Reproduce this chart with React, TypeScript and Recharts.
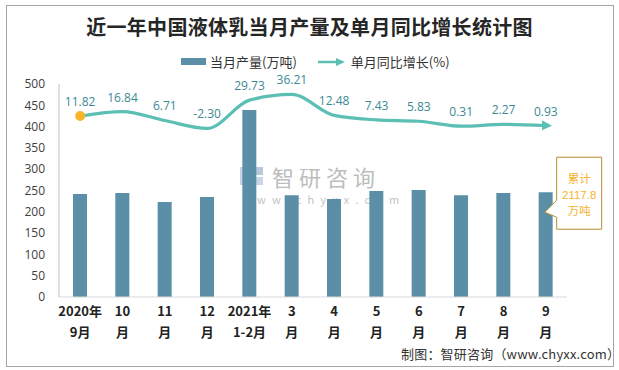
import React from 'react';
import { ComposedChart, Bar, Line, XAxis, YAxis, LabelList } from 'recharts';

const months = ['2020年9月', '10月', '11月', '12月', '2021年1-2月', '3月', '4月', '5月', '6月', '7月', '8月', '9月'];
const tickTop = ['2020年', '10', '11', '12', '2021年', '3', '4', '5', '6', '7', '8', '9'];
const tickBottom = ['9月', '月', '月', '月', '1-2月', '月', '月', '月', '月', '月', '月', '月'];
const output = [242, 244, 223, 235, 439, 239, 230, 249, 251, 239, 244, 246];
const growth = [11.82, 16.84, 6.71, -2.3, 29.73, 36.21, 12.48, 7.43, 5.83, 0.31, 2.27, 0.93];
const yTicks = [0, 50, 100, 150, 200, 250, 300, 350, 400, 450, 500];
const boundaryTicks = [0, 1, 2, 3, 4, 5, 6, 7, 8, 9, 10, 11, 12];
const totalNote = ['累计', '2117.8', '万吨'];

const BAR = '#5b8fa7';
const LINE = '#5cbfb4';
const CJK = '"Noto Sans CJK SC", "Noto Sans", sans-serif';

const data = months.map((m, i) => ({ month: m, output: output[i], growth: growth[i] }));

const MonthTick = (props: any) => {
  const { x, y, payload } = props;
  const i = months.indexOf(payload.value);
  return (
    <g transform={`translate(${x},${y})`}>
      <text x={0} y={11} textAnchor="middle" fontSize={13} fontWeight={700} fill="#222" fontFamily={CJK}>
        {tickTop[i]}
      </text>
      <text x={0} y={32} textAnchor="middle" fontSize={13} fontWeight={700} fill="#222" fontFamily={CJK}>
        {tickBottom[i]}
      </text>
    </g>
  );
};

const FirstDot = (props: any) => {
  const { cx, cy, index } = props;
  if (index !== 0) return <g key={index} />;
  return <circle key={index} cx={cx} cy={cy} r={5} fill="#f7b52c" stroke="none" />;
};

const Callout = (props: any) => {
  const { x, y, width, index } = props;
  if (index !== output.length - 1) return null;
  const tipX = x + width / 2 - 1;
  const left = x + width + 4;
  const top = y - 35;
  const w = 45;
  const h = 72;
  const n1 = top + 43;
  const n2 = top + 60;
  const tipY = top + 55;
  const d = `M${left},${top} L${left + w},${top} L${left + w},${top + h} L${left},${top + h} L${left},${n2} L${tipX},${tipY} L${left},${n1} Z`;
  return (
    <g>
      <path d={d} fill="#fff" stroke="#b88c2e" strokeWidth={1} />
      {totalNote.map((t, k) => (
        <text key={k} x={left + w / 2} y={top + 26 + k * 16} textAnchor="middle" fontSize={11.5} fill="#f5b32f"
          fontFamily={k === 1 ? '"Liberation Sans Narrow", "Liberation Sans", sans-serif' : CJK}>
          {t}
        </text>
      ))}
    </g>
  );
};

export default function App() {
  return (
    <div style={{ position: 'absolute', left: 0, top: 0, width: 619, height: 370, background: '#fff', fontFamily: CJK }}>
      <svg width={0} height={0} style={{ position: 'absolute' }}>
        <defs>
          <marker id="arrowEnd" viewBox="0 0 10 10" refX={4} refY={5} markerWidth={3.2} markerHeight={3.2} orient="auto">
            <path d="M0,0 L10,5 L0,10 Z" fill={LINE} />
          </marker>
        </defs>
      </svg>
      <div style={{ position: 'absolute', left: 6, top: 5, width: 606, height: 360, border: '1px solid #a6a6a6' }} />
      <div style={{ position: 'absolute', left: 0, top: 12, width: 619, textAlign: 'center', fontSize: 20, fontWeight: 700, color: '#262626', letterSpacing: 0.3 }}>
        近一年中国液体乳当月产量及单月同比增长统计图
      </div>
      <div style={{ position: 'absolute', left: 181, top: 52, display: 'flex', alignItems: 'center', fontSize: 13, color: '#333' }}>
        <span style={{ display: 'inline-block', width: 25, height: 7, background: BAR, marginRight: 4 }} />
        <span>当月产量(万吨)</span>
        <svg width={30} height={10} style={{ marginLeft: 20, marginRight: 4 }}>
          <line x1={1} y1={5} x2={20} y2={5} stroke={LINE} strokeWidth={2.5} />
          <path d="M19,1 L28,5 L19,9 Z" fill={LINE} />
        </svg>
        <span>单月同比增长(%)</span>
      </div>
      <div style={{ position: 'absolute', left: 240, top: 165, display: 'flex', alignItems: 'center', color: '#bdbdbd' }}>
        <svg width={24} height={22} style={{ marginRight: 8 }}>
          <rect x={0} y={2} width={9} height={18} fill="#c8d4e4" />
          <rect x={11} y={2} width={12} height={8} fill="#b7c7dc" />
          <rect x={11} y={12} width={12} height={8} fill="#c9d6e7" />
        </svg>
        <span style={{ fontSize: 22, letterSpacing: 5, lineHeight: '22px' }}>智研咨询</span>
      </div>
      <div style={{ position: 'absolute', left: 242, top: 193, fontSize: 11, lineHeight: '12px', color: '#c4c4c4', letterSpacing: 6.2 }}>
        www.chyxx.com
      </div>
      <div style={{ position: 'absolute', left: 0, top: 0 }}>
        <ComposedChart width={619} height={370} data={data} margin={{ top: 84, right: 52, bottom: 33, left: 19 }}>
          <XAxis xAxisId="grid" type="number" domain={[0, 12]} ticks={boundaryTicks} tick={false} height={0}
            axisLine={false} tickLine={{ stroke: '#d9d9d9' }} tickSize={5} />
          <XAxis xAxisId="cat" dataKey="month" height={40} axisLine={{ stroke: '#d9d9d9' }} tickLine={false}
            tick={<MonthTick />} interval={0} />
          <YAxis yAxisId="left" domain={[0, 500]} ticks={yTicks} width={40} axisLine={{ stroke: '#bfbfbf' }}
            tickLine={false} tickSize={6} tickMargin={8} tick={{ fontSize: 12, fill: '#404040', fontFamily: '"Open Sans", sans-serif' }} />
          <YAxis yAxisId="right" orientation="right" hide domain={[-193, 48]} width={0} />
          <Bar xAxisId="cat" yAxisId="left" dataKey="output" fill={BAR} barSize={14} isAnimationActive={false}>
            <LabelList dataKey="output" content={<Callout />} />
          </Bar>
          <Line xAxisId="cat" yAxisId="right" type="monotone" dataKey="growth" stroke={LINE} strokeWidth={3.2}
            dot={<FirstDot />} activeDot={false} markerEnd="url(#arrowEnd)" isAnimationActive={false}>
            <LabelList dataKey="growth" position="top" offset={10} fontSize={12} fill="#3b8995"
              formatter={(v: any) => Number(v).toFixed(2)} fontFamily='"Open Sans", sans-serif' />
          </Line>
        </ComposedChart>
      </div>
      <div style={{ position: 'absolute', left: 401, top: 344, fontSize: 13, color: '#333', letterSpacing: 0.2 }}>
        制图：智研咨询（www.chyxx.com）
      </div>
    </div>
  );
}
